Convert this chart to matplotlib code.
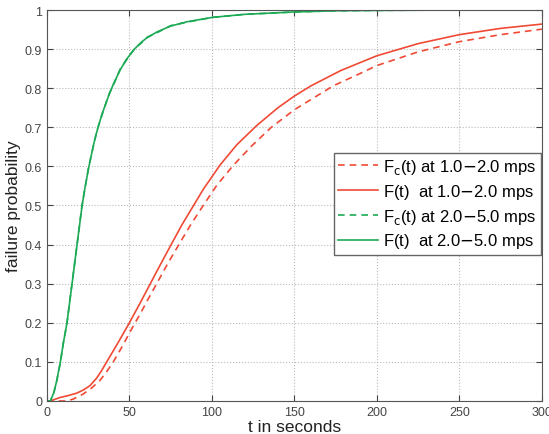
import numpy as np
from matplotlib import pyplot as plt

plt.rcParams['font.family'] = ['Liberation Sans', 'DejaVu Sans']

# slow wind (1.0-2.0 mps)
t_slow = [0, 2, 8, 13, 18, 22, 26, 30, 33, 36.2, 40, 43.2, 49.3, 56.4, 62, 68, 75, 82,
          88, 95, 105, 115, 127, 140, 150, 160, 178, 200, 225, 250, 275, 300]
F_slow = [0, 0, 0.009, 0.014, 0.02, 0.028, 0.039, 0.058, 0.077, 0.1, 0.127, 0.15,
          0.195, 0.25, 0.295, 0.343, 0.398, 0.452, 0.494, 0.543, 0.604, 0.655, 0.704,
          0.75, 0.78, 0.806, 0.845, 0.883, 0.914, 0.937, 0.953, 0.964]
tc_slow = [0, 12, 16, 22, 27, 32, 36, 40.2, 45, 51.3, 56.4, 61, 66.5, 73, 80.5, 87,
           94.7, 103, 113, 124, 136, 150, 173.5, 190, 200, 225, 250, 275, 300]
Fc_slow = [0, 0, 0.005, 0.018, 0.033, 0.052, 0.074, 0.1, 0.135, 0.184, 0.222, 0.258,
           0.3, 0.35, 0.404, 0.45, 0.5, 0.552, 0.603, 0.652, 0.7, 0.745, 0.806, 0.838,
           0.858, 0.893, 0.919, 0.937, 0.951]

# fast wind (2.0-5.0 mps)
t_fast = [0, 2, 4, 5.7, 8.1, 10, 12.1, 15.2, 18.2, 21.2, 23, 25.3, 28.3, 30.3, 33.3,
          37.4, 40.4, 44.4, 48, 53, 57, 60.6, 66.7, 75, 85, 100, 120, 150, 175, 200,
          250, 300]
F_fast = [0, 0, 0.02, 0.048, 0.1, 0.15, 0.2, 0.3, 0.4, 0.497, 0.545, 0.597, 0.657,
          0.69, 0.733, 0.781, 0.812, 0.847, 0.873, 0.9, 0.917, 0.929, 0.944, 0.959,
          0.97, 0.981, 0.989, 0.995, 0.998, 0.999, 1.0, 1.0]
Fc_fast = [0, 0, 0.018, 0.046, 0.098, 0.151, 0.198, 0.302, 0.398, 0.5, 0.543, 0.6,
           0.655, 0.692, 0.731, 0.783, 0.81, 0.849, 0.871, 0.901, 0.915, 0.93, 0.942,
           0.96, 0.969, 0.981, 0.989, 0.995, 0.998, 0.999, 1.0, 1.0]

red = '#f04a35'
green = '#1daa55'

fig = plt.figure(figsize=(5.49, 4.35), dpi=100)
ax = fig.add_axes([0.0856, 0.0759, 0.9014, 0.8988])

ax.plot(tc_slow, Fc_slow, '--', color=red, lw=1.2, dashes=(4, 3),
        label=r'F$_\mathrm{c}$(t) at 1.0$-$2.0 mps')
ax.plot(t_slow, F_slow, '-', color=red, lw=1.2, label='F(t)  at 1.0$-$2.0 mps')
ax.plot(t_fast, Fc_fast, '--', color=green, lw=1.2, dashes=(4, 3),
        label=r'F$_\mathrm{c}$(t) at 2.0$-$5.0 mps')
ax.plot(t_fast, F_fast, '-', color=green, lw=1.2, label='F(t)  at 2.0$-$5.0 mps')

ax.set_xlim(0, 300)
ax.set_ylim(0, 1)
ax.set_xticks(np.arange(0, 301, 50))
ax.set_yticks(np.arange(0, 1.01, 0.1))
ax.set_yticklabels(['0', '0.1', '0.2', '0.3', '0.4', '0.5', '0.6', '0.7', '0.8', '0.9', '1'])
ax.grid(True, linestyle=':', color='#bbbbbb', lw=0.8)
ax.tick_params(direction='in', top=True, right=True, labelsize=9, colors='#444444',
               length=4)
for s in ax.spines.values():
    s.set_color('#555555')

ax.set_xlabel('t in seconds', fontsize=12.5, color='#222222', labelpad=1)
ax.set_ylabel('failure probability', fontsize=12.5, color='#222222', labelpad=3)

leg = ax.legend(loc='upper left', bbox_to_anchor=(0.58, 0.635), fontsize=12,
                fancybox=False, framealpha=1, edgecolor='#666666',
                handlelength=2.4, labelspacing=0.35, borderpad=0.25,
                handletextpad=0.3, borderaxespad=0)
leg.get_frame().set_linewidth(1.0)

plt.savefig('out.png', dpi=100)
